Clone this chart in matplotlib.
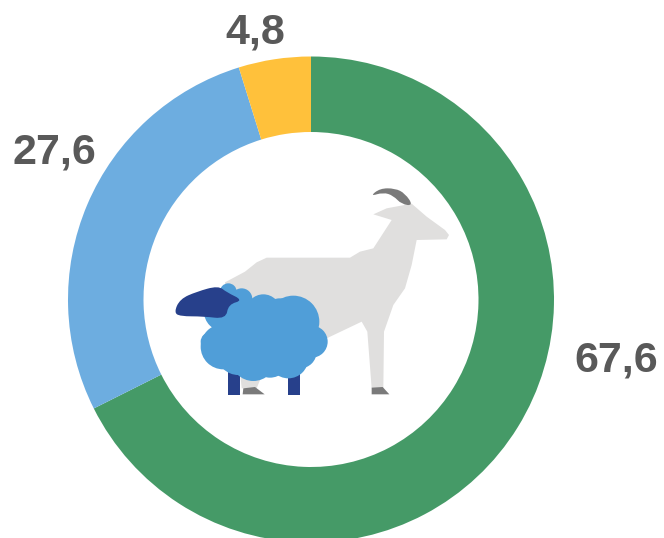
import matplotlib
matplotlib.use('Agg')
import matplotlib.pyplot as plt
from matplotlib.patches import Polygon, Circle, PathPatch
from matplotlib.path import Path

plt.rcParams['font.family'] = ['Liberation Sans', 'DejaVu Sans']

labels = ['67,6', '27,6', '4,8']
values = [67.6, 27.6, 4.8]
colors = ['#459A67', '#6DADE0', '#FFC13B']

W, H = 664, 538
fig = plt.figure(figsize=(W / 100, H / 100), dpi=100)

# donut axes: centre (311, 299.5), outer radius 243 px, runs off the bottom
ax = fig.add_axes([(311 - 243) / W, 1 - (299.5 + 243) / H, 486 / W, 486 / H])
ax.pie(values, colors=colors, startangle=90, counterclock=False, radius=1,
       wedgeprops=dict(width=75.5 / 243, edgecolor='none'))
ax.set_xlim(-1, 1)
ax.set_ylim(-1, 1)
ax.set_aspect('equal')
ax.axis('off')

# overlay in pixel coords for labels and the animal icon
ov = fig.add_axes([0, 0, 1, 1])
ov.set_xlim(0, W)
ov.set_ylim(H, 0)
ov.axis('off')

for lab, x, y in zip(labels, [616, 54.5, 255], [361, 153, 33]):
    ov.text(x, y, lab, fontsize=31, fontweight='bold', color='#595959',
            ha='center', va='center')


def z(pts):
    return [(160 + x / 3, 175 + y / 3) for x, y in pts]


def smooth(pts, **kw):
    # closed outline with rounded corners: quadratic curves through midpoints
    pts = z(pts)
    mids = [((a[0] + b[0]) / 2, (a[1] + b[1]) / 2)
            for a, b in zip(pts, pts[1:] + pts[:1])]
    verts = [mids[-1]]
    codes = [Path.MOVETO]
    for p, m in zip(pts, mids):
        verts += [p, m]
        codes += [Path.CURVE3, Path.CURVE3]
    return PathPatch(Path(verts, codes), ec='none', **kw)


goat = '#E0DFDE'
grey = '#7A7A7A'
navy = '#27408B'
wool = '#509ED8'

# goat body, hind leg and hooves
ov.add_patch(Polygon(z([(195, 322), (255, 290), (290, 262), (320, 248), (570, 248),
                        (600, 230), (640, 220), (695, 135), (640, 118), (680, 100),
                        (755, 86), (800, 125), (855, 165), (867, 180), (860, 193),
                        (770, 195), (755, 270), (735, 340), (700, 390), (672, 470),
                        (670, 640), (635, 640), (622, 470), (605, 440), (500, 490),
                        (300, 600), (200, 500)]),
                     closed=True, fc=goat, ec='none', zorder=2))
ov.add_patch(Polygon(z([(240, 590), (310, 590), (290, 640), (245, 640)]),
                     closed=True, fc=goat, ec='none', zorder=2))
ov.add_patch(smooth([(630, 64), (660, 40), (705, 40), (735, 55), (760, 92), (725, 88),
                     (700, 62), (670, 52)], fc=grey, zorder=2))
ov.add_patch(Polygon(z([(635, 638), (668, 636), (688, 658), (635, 658)]),
                     closed=True, fc=grey, ec='none', zorder=2))
ov.add_patch(Polygon(z([(250, 640), (285, 636), (314, 658), (248, 658)]),
                     closed=True, fc=grey, ec='none', zorder=2))

# sheep legs, wool, head
ov.add_patch(Polygon(z([(204, 590), (241, 590), (241, 660), (204, 660)]),
                     closed=True, fc=navy, ec='none', zorder=3))
ov.add_patch(Polygon(z([(383, 590), (420, 590), (420, 660), (383, 660)]),
                     closed=True, fc=navy, ec='none', zorder=3))
for cx, cy, r in [(205, 350, 25), (245, 372, 32), (190, 410, 58), (310, 410, 52),
                  (400, 440, 78), (455, 500, 48), (385, 550, 60), (280, 550, 68),
                  (190, 515, 68), (300, 480, 100), (330, 550, 58), (235, 535, 65),
                  (240, 430, 60), (360, 430, 60), (420, 530, 50), (150, 500, 28)]:
    (px, py), = z([(cx, cy)])
    ov.add_patch(Circle((px, py), r / 3, fc=wool, ec='none', zorder=4))
ov.add_patch(smooth([(42, 412), (60, 372), (110, 350), (175, 332), (200, 352),
                     (250, 376), (205, 388), (198, 432), (130, 424), (60, 424)],
                    fc=navy, zorder=5))

fig.savefig('out.png', dpi=100)
